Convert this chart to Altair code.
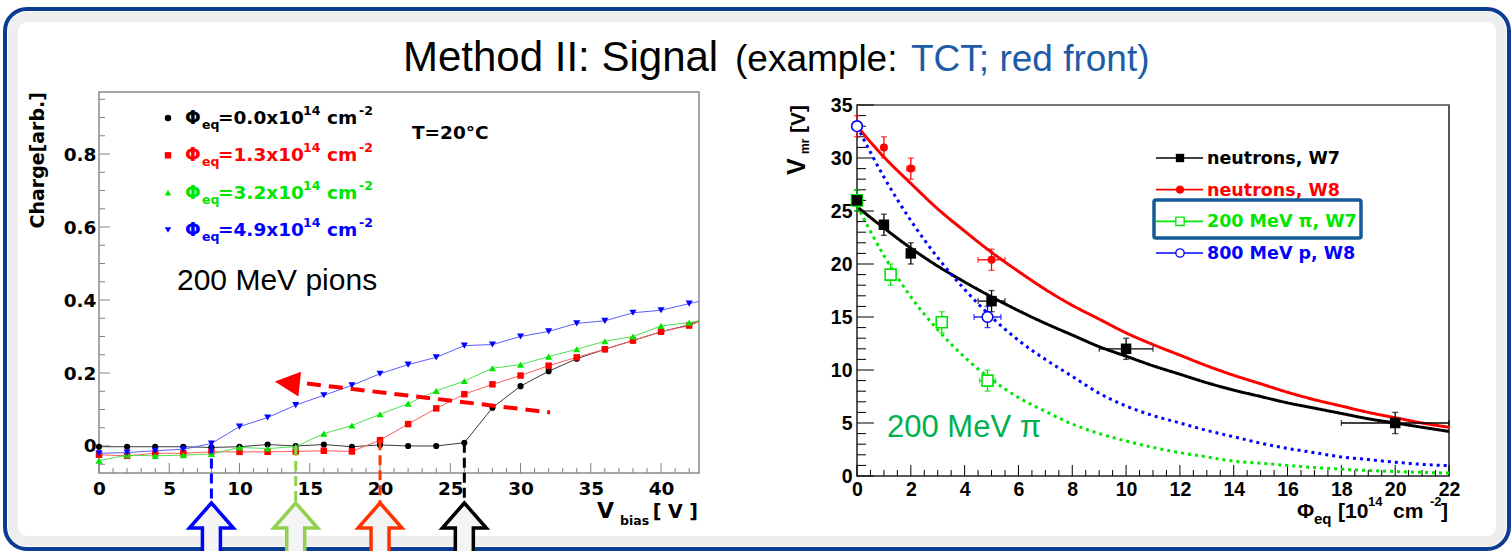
import altair as alt
import pandas as pd

W, H = 1511, 551
SANS = "Liberation Sans"
BOLD = "DejaVu Sans"
ONE = pd.DataFrame({"k": [0]})

# ===================== LEFT PANEL DATA (charge vs bias) =====================
v_bias = [0, 2, 4, 6, 8, 10, 12, 14, 16, 18, 20, 22, 24, 26, 28, 30, 32, 34, 36, 38, 40, 42]
q_f00 = [-0.002, -0.002, -0.002, -0.002, -0.004, -0.002, 0.004, 0.000, 0.004, -0.002, 0.003, 0.000,
         0.000, 0.009, 0.105, 0.164, 0.205, 0.239, 0.265, 0.289, 0.313, 0.332]
q_f13 = [-0.024, -0.027, -0.020, -0.020, -0.016, -0.016, -0.016, -0.015, -0.013, -0.015, 0.016, 0.060,
         0.103, 0.142, 0.169, 0.193, 0.220, 0.243, 0.265, 0.289, 0.313, 0.330]
q_f32 = [-0.040, -0.025, -0.027, -0.025, -0.022, -0.004, -0.007, -0.002, 0.034, 0.056, 0.087, 0.116,
         0.151, 0.178, 0.213, 0.223, 0.245, 0.265, 0.287, 0.300, 0.329, 0.338]
q_f49 = [-0.020, -0.018, -0.013, -0.009, 0.007, 0.053, 0.078, 0.112, 0.139, 0.166, 0.198, 0.223,
         0.243, 0.275, 0.278, 0.300, 0.314, 0.336, 0.343, 0.365, 0.372, 0.390]
v_edge = 42.7
q_edge = [0.343, 0.340, 0.343, 0.396]
fluence_labels = ["0.0", "1.3", "3.2", "4.9"]
left_names = ["f00", "f13", "f32", "f49"]
left_marker_colors = ["#000000", "#ff0000", "#00e600", "#0000ff"]
left_line_colors = ["#3a3a3a", "#ff5c5c", "#4ee04e", "#5c5cff"]
left_shapes = ["circle", "square", "triangle-up", "triangle-down"]
left_sizes = [38, 42, 50, 50]
left_x_major = [0, 5, 10, 15, 20, 25, 30, 35, 40]
left_x_minor = [i for i in range(0, 43) if i % 5]
left_y_major = [0, 0.2, 0.4, 0.6, 0.8]
left_y_minor = [round(-0.05 + 0.05 * i, 2) for i in range(21) if i % 4 != 1]
depl_names = ["b", "g", "r", "k"]
depl_v = [8, 14, 20, 26]
depl_q = [0.007, 0.000, 0.016, 0.009]
depl_colors = ["#0000ff", "#92d050", "#ff3300", "#000000"]
trend_v = [14.8, 32.1]
trend_q = [0.171, 0.092]
trend_head_v = [13.4]
trend_head_q = [0.173]

# ===================== RIGHT PANEL DATA (Vmr vs fluence) =====================
series = ["nW7", "nW8", "pi", "p"]
series_colors = ["#000000", "#ff0000", "#00e600", "#0000ff"]
series_labels = ["neutrons, W7", "neutrons, W8", "200 MeV \u03c0, W7", "800 MeV p, W8"]
phi_fit = list(range(23))
fit_nW7 = [25.4, 23.4, 21.5, 19.8, 18.3, 16.9, 15.6, 14.4, 13.3, 12.2, 11.3, 10.4, 9.6, 8.8, 8.1,
           7.5, 6.9, 6.4, 5.9, 5.4, 5.0, 4.6, 4.2]
fit_nW8 = [33.0, 30.1, 27.6, 25.2, 23.1, 21.1, 19.3, 17.6, 16.1, 14.8, 13.5, 12.4, 11.4, 10.4, 9.5,
           8.7, 7.9, 7.2, 6.6, 6.0, 5.5, 5.0, 4.6]
fit_pi = [25.5, 20.8, 16.9, 13.8, 11.2, 9.1, 7.4, 6.1, 4.9, 4.0, 3.3, 2.7, 2.2, 1.8, 1.4, 1.2, 1.0,
          0.8, 0.65, 0.52, 0.42, 0.34, 0.28]
fit_p = [33.0, 28.2, 24.1, 20.6, 17.6, 15.0, 12.8, 11.0, 9.4, 7.8, 6.6, 5.7, 5.0, 4.3, 3.7, 3.1,
         2.6, 2.2, 1.8, 1.55, 1.3, 1.1, 0.97]
meas_nW7 = {"x": [0, 1, 2, 5, 10, 20], "y": [26.0, 23.7, 21.0, 16.5, 12.0, 5.0],
            "xe": [0, 0, 0, 0.5, 1.0, 2.0], "ye": [1, 1, 1, 1, 1, 1]}
meas_nW8 = {"x": [0, 1, 2, 5], "y": [33.0, 31.0, 29.0, 20.4],
            "xe": [0, 0, 0.15, 0.5], "ye": [1, 1, 1, 1]}
meas_pi = {"x": [0, 1.25, 3.15, 4.85], "y": [26.0, 19.0, 14.5, 9.0],
           "xe": [0, 0.1, 0.2, 0.3], "ye": [1, 1, 1, 1]}
meas_p = {"x": [0, 4.85], "y": [33.0, 15.0], "xe": [0, 0.5], "ye": [0, 1]}
right_x_major = list(range(0, 23, 2))
right_x_minor = [k * 0.5 for k in range(45) if k % 4]
right_y_major = list(range(0, 36, 5))
right_y_minor = [k for k in range(36) if k % 5]

# ===================== SCALES =====================
XL = alt.Scale(domain=[0, 42.7], range=[99, 699], nice=False, zero=False)
YL = alt.Scale(domain=[-0.074, 0.970], range=[473, 92], nice=False, zero=False)
XR = alt.Scale(domain=[0, 22], range=[857, 1449], nice=False, zero=False)
YR = alt.Scale(domain=[0, 35], range=[476, 105], nice=False, zero=False)


def txt(s, x, y, size, color="black", font=SANS, weight="normal", align="left", angle=0):
    return alt.Chart(ONE).mark_text(text=s, font=font, fontSize=size, fontWeight=weight, color=color,
                                    align=align, baseline="alphabetic", angle=angle).encode(
        x=alt.value(x), y=alt.value(y))


def yticks(vals, xs, ys, x0, length, color, width=1.0):
    return alt.Chart(pd.DataFrame({"t": vals})).mark_rule(color=color, strokeWidth=width, x2Offset=length).encode(
        y=alt.Y("t:Q", scale=ys, axis=None),
        x=alt.XDatum(x0, scale=xs, axis=None),
        x2=alt.X2Datum(x0))


def xticks(vals, xs, ys, y0, length, color, width=1.0):
    return alt.Chart(pd.DataFrame({"t": vals})).mark_rule(color=color, strokeWidth=width, y2Offset=-length).encode(
        x=alt.X("t:Q", scale=xs, axis=None),
        y=alt.YDatum(y0, scale=ys, axis=None),
        y2=alt.Y2Datum(y0))


def frame(xs, ys, x0, x1, y0, y1, color, width):
    return alt.Chart(ONE).mark_rect(fill="transparent", stroke=color, strokeWidth=width).encode(
        x=alt.XDatum(x0, scale=xs, axis=None), x2=alt.X2Datum(x1),
        y=alt.YDatum(y0, scale=ys, axis=None), y2=alt.Y2Datum(y1))


def axis_labels(vals, scale, axis, channel):
    base = alt.Chart(pd.DataFrame({"t": vals})).mark_point(opacity=0, size=1)
    if channel == "x":
        return base.encode(x=alt.X("t:Q", scale=scale, axis=axis), y=alt.value(0))
    return base.encode(y=alt.Y("t:Q", scale=scale, axis=axis), x=alt.value(0))


def ax(orient, offset, values, fmt, size, font, pad):
    return alt.Axis(orient=orient, offset=offset, values=values, format=fmt, ticks=False, tickSize=0,
                    domain=False, grid=False, labelFont=font, labelFontWeight="bold", labelFontSize=size,
                    labelColor="black", labelPadding=pad, labelFlush=False, labelOverlap=False, title=None)


# ===================== SLIDE DECORATION =====================
shadow = alt.Chart(ONE).mark_rect(fill="transparent", stroke="#eeeeee", strokeWidth=10, cornerRadius=14).encode(
    x=alt.value(13), x2=alt.value(1501), y=alt.value(17), y2=alt.value(541))
border = alt.Chart(ONE).mark_rect(fill="transparent", stroke="#0a3d91", strokeWidth=4, cornerRadius=22).encode(
    x=alt.value(5), x2=alt.value(1509), y=alt.value(9), y2=alt.value(549))
title = [
    txt("Method II: Signal", 403, 71, 42),
    txt("(example:", 735, 71, 37),
    txt("TCT; red front)", 911, 71, 37, color="#1c5ba6"),
]

# ===================== LEFT PANEL =====================
left_axes = [
    axis_labels(left_x_major, XL, ax("bottom", 473 - H, left_x_major, "d", 18.5, BOLD, 6), "x"),
    axis_labels(left_y_major, YL, ax("left", -99, left_y_major, "~g", 18.5, BOLD, 3), "y"),
]

left_series = [q_f00, q_f13, q_f32, q_f49]
left_layers = []
for i, q in enumerate(left_series):
    dline = pd.DataFrame({"V": v_bias + [v_edge], "Q": q + [q_edge[i]]})
    dpts = pd.DataFrame({"V": v_bias, "Q": q})
    left_layers.append(alt.Chart(dline).mark_line(color=left_line_colors[i], strokeWidth=1).encode(
        x=alt.X("V:Q", scale=XL, axis=None), y=alt.Y("Q:Q", scale=YL, axis=None)))
    left_layers.append(alt.Chart(dpts).mark_point(shape=left_shapes[i], filled=True, size=left_sizes[i],
                                                  color=left_marker_colors[i], opacity=1).encode(
        x=alt.X("V:Q", scale=XL, axis=None), y=alt.Y("Q:Q", scale=YL, axis=None)))
left_data = alt.layer(*left_layers)

left_frame = frame(XL, YL, 0, 42.7, -0.074, 0.970, "#8a8a8a", 1.5)
left_ticks = [
    yticks(left_y_major, XL, YL, 0, 11, "#808080"),
    yticks(left_y_minor, XL, YL, 0, 6, "#808080"),
    xticks(left_x_major, XL, YL, -0.074, 10, "#808080"),
    xticks(left_x_minor, XL, YL, -0.074, 5, "#808080"),
]

# legend of the left panel
leg_l = pd.DataFrame({"row": [0, 1, 2, 3], "lab": fluence_labels, "s": left_names})
yrowL = alt.Y("row:Q", scale=alt.Scale(domain=[0, 3], range=[118, 230]), axis=None)
colL = alt.Color("s:N", scale=alt.Scale(domain=left_names, range=left_marker_colors), legend=None)
bl = alt.Chart(leg_l)


def lpiece(s, x, size, dy):
    return bl.mark_text(text=s, font=BOLD, fontWeight="bold", fontSize=size, align="left",
                        baseline="alphabetic", dy=dy).encode(x=alt.value(x), y=yrowL, color=colL)


left_legend = alt.layer(
    bl.mark_point(filled=True, size=42, opacity=1).encode(
        x=alt.value(168), y=yrowL, color=colL,
        shape=alt.Shape("s:N", scale=alt.Scale(domain=left_names, range=left_shapes), legend=None)),
    lpiece("\u03a6", 185, 18.5, 6),
    lpiece("eq", 202, 12.5, 11),
    bl.transform_calculate(t='"=" + datum.lab + "x10"').mark_text(
        font=BOLD, fontWeight="bold", fontSize=18.5, align="left", baseline="alphabetic", dy=6).encode(
        x=alt.value(218), y=yrowL, color=colL, text="t:N"),
    lpiece("14", 303, 12.5, -3),
    lpiece("cm", 327, 18.5, 6),
    lpiece("-2", 359, 12.5, -3),
)

left_text = [
    txt("T=20\u00b0C", 412, 139, 18.5, font=BOLD, weight="bold"),
    txt("200 MeV pions", 177, 290, 30),
    txt("Charge[arb.]", 44, 92, 19, font=BOLD, weight="bold", align="right", angle=270),
    txt("V", 597, 518, 22, font=BOLD, weight="bold"),
    txt("bias", 620, 525, 12.5, font=BOLD, weight="bold"),
    txt("[ V ]", 698, 518, 19, font=BOLD, weight="bold", align="right"),
]

# depletion markers below the axis and trend arrow
dep = pd.DataFrame({"V": depl_v, "Q": depl_q, "n": depl_names})
colD = alt.Color("n:N", scale=alt.Scale(domain=depl_names, range=depl_colors), legend=None)
ARROW = "M0,-1L0.88,0L0.36,0L0.36,1L-0.36,1L-0.36,0L-0.88,0Z"
markers = alt.layer(
    alt.Chart(dep).mark_rule(strokeWidth=3, strokeDash=[10, 5]).encode(
        x=alt.X("V:Q", scale=XL, axis=None), y=alt.Y("Q:Q", scale=YL, axis=None), y2=alt.value(503),
        color=colD),
    alt.Chart(dep).mark_point(shape=ARROW, size=2500, strokeWidth=3.5, opacity=1).encode(
        x=alt.X("V:Q", scale=XL, axis=None), y=alt.value(528),
        stroke=alt.Stroke("n:N", scale=alt.Scale(domain=depl_names, range=depl_colors), legend=None),
        fill=alt.value("#f4f4f4")),
)
trend = alt.layer(
    alt.Chart(pd.DataFrame({"V": trend_v, "Q": trend_q})).mark_line(
        color="#ff0000", strokeWidth=4, strokeDash=[14, 8]).encode(
        x=alt.X("V:Q", scale=XL, axis=None), y=alt.Y("Q:Q", scale=YL, axis=None)),
    alt.Chart(pd.DataFrame({"V": trend_head_v, "Q": trend_head_q})).mark_point(
        shape="M-1,0L1,-1L1,1Z", size=625, angle=6, filled=True, color="#ff0000", opacity=1).encode(
        x=alt.X("V:Q", scale=XL, axis=None), y=alt.Y("Q:Q", scale=YL, axis=None)),
)

# ===================== RIGHT PANEL =====================
right_axes = [
    axis_labels(right_x_major, XR, ax("bottom", 476 - H, right_x_major, "d", 19.5, SANS, 4), "x"),
    axis_labels(right_y_major, YR, ax("left", -857, right_y_major, "d", 19.5, SANS, 5), "y"),
]

fits = pd.concat([pd.DataFrame({"s": s, "phi": phi_fit, "v": f})
                  for s, f in zip(series, [fit_nW7, fit_nW8, fit_pi, fit_p])])
meas = pd.concat([pd.DataFrame({"s": s, **m}) for s, m in zip(series, [meas_nW7, meas_nW8, meas_pi, meas_p])])
colR = alt.Color("s:N", scale=alt.Scale(domain=series, range=series_colors), legend=None)
XRf = lambda f: alt.X(f, scale=XR, axis=None)
YRf = lambda f: alt.Y(f, scale=YR, axis=None)

curves = alt.Chart(fits).mark_line(strokeWidth=3, interpolate="monotone").encode(
    x=XRf("phi:Q"), y=YRf("v:Q"), color=colR,
    strokeDash=alt.StrokeDash("s:N", scale=alt.Scale(domain=series, range=[[1, 0], [1, 0], [3, 4], [3, 4]]),
                              legend=None))
mb = alt.Chart(meas)
err_v = mb.transform_filter("datum.ye > 0").transform_calculate(
    lo="datum.y - datum.ye", hi="datum.y + datum.ye")
err_h = mb.transform_filter("datum.xe > 0").transform_calculate(
    lo="datum.x - datum.xe", hi="datum.x + datum.xe")
errors = [
    err_v.mark_rule(strokeWidth=1.3).encode(x=XRf("x:Q"), y=YRf("lo:Q"), y2="hi:Q", color=colR),
    err_v.transform_fold(["lo", "hi"]).mark_tick(orient="horizontal", size=6, thickness=1.3).encode(
        x=XRf("x:Q"), y=YRf("value:Q"), color=colR),
    err_h.mark_rule(strokeWidth=1.3).encode(x=XRf("lo:Q"), x2="hi:Q", y=YRf("y:Q"), color=colR),
    err_h.transform_fold(["lo", "hi"]).mark_tick(orient="vertical", size=6, thickness=1.3).encode(
        x=XRf("value:Q"), y=YRf("y:Q"), color=colR),
]


def pts(s, shape, filled, size, sw=1.0):
    enc = dict(x=XRf("x:Q"), y=YRf("y:Q"), color=colR)
    if not filled:
        enc["fill"] = alt.value("white")
    return mb.transform_filter(f"datum.s == '{s}'").mark_point(
        shape=shape, filled=filled, size=size, strokeWidth=sw, opacity=1).encode(**enc)


right_data = alt.layer(curves, *errors,
                       pts("pi", "square", False, 120, 1.6),
                       pts("nW7", "square", True, 110),
                       pts("nW8", "circle", True, 64),
                       pts("p", "circle", False, 115, 1.6))

right_frame = [frame(XR, YR, 0, 22, 0, 35, "#222222", 1.5),
               alt.Chart(ONE).mark_rule(color="#808080", strokeWidth=1.5).encode(
                   x=alt.XDatum(0, scale=XR, axis=None), x2=alt.X2Datum(22),
                   y=alt.YDatum(35, scale=YR, axis=None))]
right_ticks = [
    yticks(right_y_major, XR, YR, 0, 17, "#000000"),
    yticks(right_y_minor, XR, YR, 0, 9, "#000000"),
    xticks(right_x_major, XR, YR, 0, 11, "#000000"),
    xticks(right_x_minor, XR, YR, 0, 6, "#000000"),
]

leg_r = pd.DataFrame({"row": [0, 1, 2, 3], "lab": series_labels, "s": series})
yrowR = alt.Y("row:Q", scale=alt.Scale(domain=[0, 3], range=[158, 253]), axis=None)
br = alt.Chart(leg_r)
shapeR = alt.Shape("s:N", scale=alt.Scale(domain=series, range=["square", "circle", "square", "circle"]),
                   legend=None)
right_legend = alt.layer(
    br.mark_rule(strokeWidth=1.6).encode(x=alt.value(1156), x2=alt.value(1203), y=yrowR, color=colR),
    br.transform_filter("datum.row < 2").mark_point(filled=True, size=70, opacity=1).encode(
        x=alt.value(1180), y=yrowR, color=colR, shape=shapeR),
    br.transform_filter("datum.row >= 2").mark_point(filled=False, size=70, strokeWidth=1.3, opacity=1).encode(
        x=alt.value(1180), y=yrowR, color=colR, shape=shapeR, fill=alt.value("white")),
    br.mark_text(font=BOLD, fontWeight="bold", fontSize=17.5, align="left", baseline="alphabetic", dy=6).encode(
        x=alt.value(1207), y=yrowR, color=colR, text="lab:N"),
)
highlight = alt.Chart(ONE).mark_rect(fill="transparent", stroke="#155a98", strokeWidth=3.5, cornerRadius=2).encode(
    x=alt.value(1154), x2=alt.value(1361), y=alt.value(200), y2=alt.value(238))

right_text = [
    txt("200 MeV \u03c0", 887, 437, 31, color="#00b050"),
    txt("\u03a6", 1297, 518, 21, weight="bold"),
    txt("eq", 1314, 524, 15, weight="bold"),
    txt("[10", 1338, 518, 21, weight="bold"),
    txt("14", 1368, 506, 13, weight="bold"),
    txt("cm", 1393, 518, 21, weight="bold"),
    txt("-2", 1430, 506, 13, weight="bold"),
    txt("]", 1441, 518, 21, weight="bold"),
    txt("V", 805, 175, 25, weight="bold", angle=270),
    txt("mr", 809, 154, 12, weight="bold", angle=270),
    txt("[V]", 805, 133, 21, weight="bold", angle=270),
]

chart = alt.layer(
    shadow, border, *title,
    left_frame, *left_ticks, *left_axes, left_data, left_legend, *left_text, markers, trend,
    *right_frame, *right_ticks, *right_axes, right_data, right_legend, highlight, *right_text,
).resolve_scale(
    x="independent", y="independent", color="independent", shape="independent",
    stroke="independent", strokeDash="independent"
).properties(
    width=W, height=H, autosize=alt.AutoSizeParams(type="none"), padding=0, background="white"
).configure_view(strokeWidth=0)

chart.save("out.html", embed_options={"renderer": "svg", "actions": False})
